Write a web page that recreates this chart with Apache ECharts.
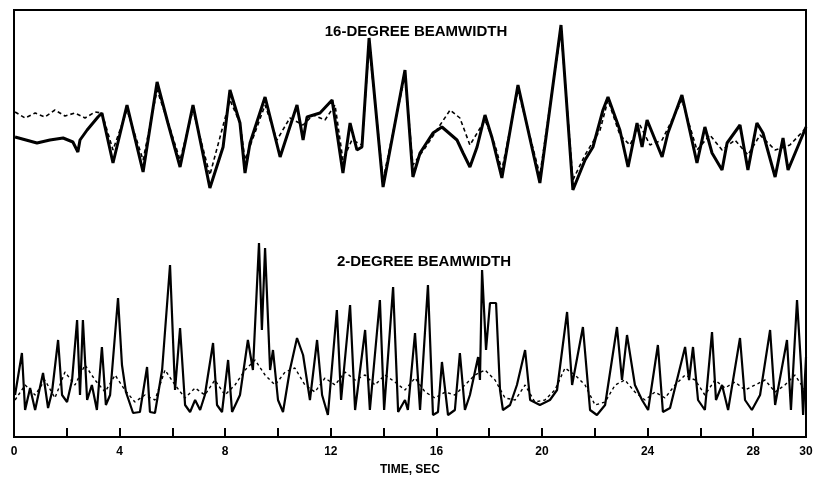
<!DOCTYPE html>
<html>
<head>
<meta charset="utf-8">
<script src="https://cdn.jsdelivr.net/npm/echarts@6/dist/echarts.min.js"></script>
<style>
  html, body { margin: 0; padding: 0; background: #fff; }
  #chart { width: 816px; height: 481px; }
</style>
</head>
<body>
<div id="chart"></div>
<script>
// time (sec), relative signal level
const wideSolid = [
  [0.04, 6.3], [0.87, 5.7], [1.36, 6.0], [1.86, 6.2], [2.23, 5.8], [2.42, 4.8], [2.50, 6.0],
  [2.77, 7.0], [3.18, 8.3], [3.33, 8.7], [3.75, 3.7], [4.28, 9.5], [4.89, 2.8], [5.42, 11.8],
  [5.83, 7.7], [6.29, 3.3], [6.78, 9.5], [7.42, 1.2], [7.92, 5.3], [8.18, 11.0], [8.56, 7.7],
  [8.75, 2.7], [8.94, 5.7], [9.51, 10.3], [10.08, 4.3], [10.72, 9.5], [10.95, 6.0], [11.10, 8.3],
  [11.59, 8.7], [12.05, 10.0], [12.46, 2.7], [12.73, 7.7], [12.99, 5.0], [13.18, 5.3], [13.45, 16.2],
  [13.98, 1.3], [14.81, 13.0], [15.11, 2.3], [15.38, 4.7], [15.87, 6.7], [16.21, 7.3], [16.78, 6.0],
  [17.01, 4.7], [17.27, 3.3], [17.54, 5.3], [17.84, 8.5], [18.11, 6.2], [18.48, 2.2], [19.09, 11.5],
  [19.92, 1.7], [20.72, 17.5], [21.17, 1.0], [21.63, 4.0], [21.93, 5.3], [22.31, 9.0], [22.50, 10.3],
  [22.95, 7.0], [23.26, 3.3], [23.60, 7.7], [23.79, 5.3], [23.98, 8.0], [24.55, 4.3], [24.77, 6.7],
  [25.30, 10.5], [25.87, 3.7], [26.17, 7.3], [26.44, 4.7], [26.82, 3.0], [27.01, 5.7], [27.50, 7.5],
  [27.80, 3.0], [28.14, 7.7], [28.37, 6.7], [28.83, 2.3], [29.13, 6.2], [29.32, 3.0], [30.0, 7.3]
];
const wideDashed = [
  [0.04, 8.8], [0.42, 8.2], [0.80, 8.7], [1.17, 8.3], [1.55, 9.0], [1.93, 8.4], [2.31, 8.7],
  [2.69, 8.2], [3.07, 8.8], [3.33, 8.7], [3.75, 5.0], [4.28, 9.0], [4.89, 4.0], [5.42, 11.0],
  [5.83, 7.8], [6.29, 4.0], [6.78, 9.0], [7.42, 2.5], [8.18, 10.0], [8.56, 7.7], [8.75, 4.0],
  [9.51, 9.5], [9.96, 6.0], [10.45, 8.2], [10.95, 7.5], [11.33, 8.5], [11.78, 8.0], [12.16, 9.5],
  [12.46, 4.0], [12.80, 6.0], [13.18, 5.5], [13.45, 15.5], [13.98, 2.0], [14.81, 12.5], [15.11, 3.5],
  [15.57, 5.2], [16.14, 7.5], [16.52, 9.0], [16.89, 8.2], [17.27, 5.5], [17.84, 8.0], [18.22, 5.5],
  [18.48, 3.0], [19.09, 11.0], [19.92, 2.5], [20.72, 17.0], [21.17, 2.0], [21.63, 4.5], [22.20, 7.0],
  [22.50, 10.0], [22.95, 6.5], [23.33, 5.5], [23.71, 7.5], [24.09, 5.5], [24.55, 6.0], [25.30, 10.0],
  [25.87, 5.0], [26.36, 6.5], [26.82, 5.0], [27.31, 6.0], [27.80, 4.5], [28.26, 6.5], [28.83, 5.0],
  [29.39, 5.5], [30.0, 7.2]
];
const narrowSolid = [
  [0.04, 2.5], [0.30, 6.7], [0.42, 1.0], [0.61, 3.2], [0.80, 1.0], [1.10, 4.7], [1.29, 1.2],
  [1.44, 2.8], [1.67, 8.0], [1.82, 2.5], [2.01, 1.8], [2.20, 4.0], [2.39, 10.0], [2.50, 2.5],
  [2.61, 10.0], [2.77, 2.0], [2.95, 3.5], [3.14, 1.0], [3.33, 7.3], [3.48, 1.5], [3.64, 2.5],
  [3.94, 12.2], [4.09, 5.5], [4.24, 2.8], [4.51, 0.7], [4.77, 0.8], [5.04, 5.3], [5.15, 0.8],
  [5.34, 0.7], [5.61, 5.0], [5.91, 15.5], [6.10, 3.0], [6.29, 9.2], [6.48, 1.5], [6.67, 0.8],
  [6.86, 2.0], [7.05, 1.0], [7.23, 2.5], [7.54, 7.7], [7.69, 1.5], [7.88, 0.8], [8.11, 6.0],
  [8.26, 0.8], [8.56, 2.5], [8.86, 8.0], [9.05, 5.0], [9.28, 17.7], [9.39, 9.0], [9.51, 17.2],
  [9.70, 5.0], [9.81, 7.0], [10.0, 2.0], [10.19, 0.8], [10.45, 5.0], [10.72, 8.2], [10.95, 6.5],
  [11.21, 2.0], [11.48, 8.0], [11.67, 2.5], [11.89, 0.5], [12.23, 11.0], [12.39, 2.0], [12.73, 11.5],
  [12.92, 1.0], [13.30, 9.0], [13.48, 1.0], [13.86, 12.0], [14.02, 1.0], [14.36, 13.3], [14.55, 0.8],
  [14.81, 2.0], [14.92, 1.0], [15.19, 8.7], [15.38, 1.0], [15.68, 13.5], [15.87, 0.5], [16.06, 0.8],
  [16.21, 5.8], [16.44, 0.5], [16.70, 1.0], [16.89, 6.7], [17.08, 1.0], [17.27, 2.5], [17.58, 6.3],
  [17.65, 4.0], [17.73, 15.0], [17.88, 7.0], [18.03, 11.7], [18.26, 11.7], [18.41, 3.0], [18.52, 1.0],
  [18.79, 1.5], [19.05, 3.5], [19.36, 7.0], [19.55, 2.0], [19.92, 1.5], [20.30, 2.0], [20.57, 3.0],
  [20.95, 10.8], [21.14, 3.5], [21.55, 9.3], [21.82, 1.0], [22.08, 0.5], [22.39, 1.5], [22.84, 9.3],
  [23.03, 4.0], [23.22, 8.5], [23.52, 3.5], [23.79, 2.0], [24.02, 1.0], [24.39, 7.5], [24.58, 0.8],
  [24.85, 1.2], [25.42, 7.3], [25.57, 4.0], [25.72, 7.3], [25.91, 2.0], [26.17, 1.0], [26.44, 8.8],
  [26.59, 2.0], [26.82, 3.5], [27.05, 1.0], [27.50, 8.2], [27.69, 2.0], [27.95, 1.0], [28.26, 2.5],
  [28.64, 9.0], [28.83, 1.5], [29.28, 8.0], [29.43, 1.0], [29.66, 12.0], [29.81, 5.5], [29.89, 0.5],
  [30.0, 6.3]
];
const narrowDashed = [
  [0.04, 2.0], [0.42, 3.5], [0.80, 2.5], [1.17, 4.0], [1.55, 2.2], [1.93, 4.8], [2.31, 3.5],
  [2.69, 5.5], [3.07, 4.0], [3.45, 2.8], [3.83, 4.5], [4.20, 3.0], [4.58, 1.8], [4.96, 2.5],
  [5.34, 2.0], [5.72, 5.0], [6.10, 3.5], [6.48, 2.2], [6.86, 3.2], [7.23, 2.5], [7.61, 4.0],
  [7.99, 2.5], [8.37, 3.5], [8.75, 5.0], [9.13, 6.0], [9.51, 4.5], [9.89, 3.5], [10.27, 4.8],
  [10.64, 5.2], [11.02, 3.5], [11.40, 2.8], [11.78, 4.2], [12.16, 3.5], [12.54, 4.8], [12.92, 4.0],
  [13.30, 4.5], [13.67, 3.5], [14.05, 4.5], [14.43, 3.8], [14.81, 3.0], [15.19, 4.2], [15.57, 2.8],
  [15.95, 2.2], [16.33, 2.8], [16.70, 2.5], [17.08, 3.5], [17.46, 4.5], [17.84, 5.0], [18.22, 4.0],
  [18.60, 2.2], [18.98, 2.0], [19.36, 3.5], [19.73, 1.8], [20.11, 2.0], [20.49, 3.0], [20.87, 5.2],
  [21.25, 4.5], [21.63, 3.5], [22.01, 1.5], [22.39, 1.8], [22.77, 3.5], [23.14, 4.0], [23.52, 2.8],
  [23.90, 2.0], [24.28, 2.8], [24.66, 2.2], [25.04, 3.5], [25.42, 4.5], [25.80, 4.0], [26.17, 2.5],
  [26.55, 4.0], [26.93, 3.2], [27.31, 3.8], [27.69, 3.0], [28.07, 3.5], [28.45, 4.0], [28.83, 2.8],
  [29.20, 3.5], [29.58, 4.5], [29.96, 3.0]
];
const labelTicks = [0, 4, 8, 12, 16, 20, 24, 28, 30];
const panelTitles = ['16-DEGREE BEAMWIDTH', '2-DEGREE BEAMWIDTH'];

const chart = echarts.init(document.getElementById('chart'));
const ink = '#000';
const boldFont = { fontFamily: 'Liberation Sans, Arial, sans-serif', fontWeight: 'bold', color: ink };

const option = {
  animation: false,
  backgroundColor: '#fff',
  title: [
    { text: panelTitles[0], left: 411, top: 19, textAlign: 'center',
      textStyle: { ...boldFont, fontSize: 15 } },
    { text: panelTitles[1], left: 419, top: 249, textAlign: 'center',
      textStyle: { ...boldFont, fontSize: 15 } }
  ],
  grid: {
    left: 14, right: 10, top: 10, bottom: 44,
    show: true, borderColor: ink, borderWidth: 2, backgroundColor: 'transparent'
  },
  xAxis: {
    type: 'value', min: 0, max: 30, interval: 2,
    name: 'TIME, SEC', nameLocation: 'middle', nameGap: 27,
    nameTextStyle: { ...boldFont, fontSize: 12 },
    axisLine: { onZero: false, lineStyle: { color: ink, width: 2 } },
    axisTick: { inside: true, length: 9, lineStyle: { color: ink, width: 2 } },
    axisLabel: {
      ...boldFont, fontSize: 12, margin: 9,
      formatter: v => (labelTicks.includes(v) ? String(v) : '')
    },
    splitLine: { show: false }
  },
  yAxis: [
    { type: 'value', min: -23.7, max: 19, show: false, splitLine: { show: false } },
    { type: 'value', min: -1.7, max: 41, show: false, splitLine: { show: false } }
  ],
  series: [
    { name: 'wide dashed', type: 'line', yAxisIndex: 0, data: wideDashed, symbol: 'none',
      lineStyle: { color: ink, width: 1.6, type: [4, 3] } },
    { name: 'wide solid', type: 'line', yAxisIndex: 0, data: wideSolid, symbol: 'none',
      lineStyle: { color: ink, width: 3 } },
    { name: 'narrow dashed', type: 'line', yAxisIndex: 1, data: narrowDashed, symbol: 'none',
      lineStyle: { color: ink, width: 1.4, type: [3, 3] } },
    { name: 'narrow solid', type: 'line', yAxisIndex: 1, data: narrowSolid, symbol: 'none',
      lineStyle: { color: ink, width: 2.2 } }
  ]
};
chart.setOption(option);
</script>
</body>
</html>
